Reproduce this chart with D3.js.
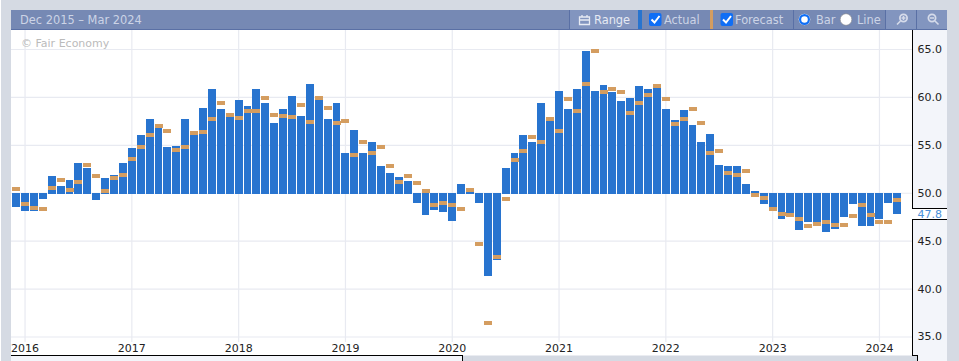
<!DOCTYPE html>
<html>
<head>
<meta charset="utf-8">
<script src="https://cdn.jsdelivr.net/npm/d3@7/dist/d3.min.js"></script>
<style>
html,body{margin:0;padding:0;background:#d5dae3;overflow:hidden}
svg{display:block}
text{font-family:"DejaVu Sans",sans-serif}
</style>
</head>
<body>
<svg id="c" width="959" height="361"></svg>
<script>
const months = [
"2015-12",
"2016-01","2016-02","2016-03","2016-04","2016-05","2016-06","2016-07","2016-08","2016-09","2016-10","2016-11","2016-12",
"2017-01","2017-02","2017-03","2017-04","2017-05","2017-06","2017-07","2017-08","2017-09","2017-10","2017-11","2017-12",
"2018-01","2018-02","2018-03","2018-04","2018-05","2018-06","2018-07","2018-08","2018-09","2018-10","2018-11","2018-12",
"2019-01","2019-02","2019-03","2019-04","2019-05","2019-06","2019-07","2019-08","2019-09","2019-10","2019-11","2019-12",
"2020-01","2020-02","2020-03","2020-04","2020-05","2020-06","2020-07","2020-08","2020-09","2020-10","2020-11","2020-12",
"2021-01","2021-02","2021-03","2021-04","2021-05","2021-06","2021-07","2021-08","2021-09","2021-10","2021-11","2021-12",
"2022-01","2022-02","2022-03","2022-04","2022-05","2022-06","2022-07","2022-08","2022-09","2022-10","2022-11","2022-12",
"2023-01","2023-02","2023-03","2023-04","2023-05","2023-06","2023-07","2023-08","2023-09","2023-10","2023-11","2023-12",
"2024-01","2024-02","2024-03"];
const actual = [
48.55,
48.1,48.1,49.4,51.8,50.8,51.35,53.2,52.6,49.3,51.55,51.9,53.2,
54.7,56.05,57.7,56.8,54.8,54.9,57.8,56.05,58.85,60.85,58.75,58.0,
59.7,59.15,60.85,59.4,57.3,58.75,60.2,58.1,61.35,59.7,57.7,59.4,
54.15,56.65,54.15,55.3,52.8,52.1,51.65,51.25,48.95,47.7,48.25,48.0,
47.1,50.95,50.1,48.95,41.35,43.0,52.6,54.15,56.05,55.4,59.4,57.5,
60.7,58.75,60.85,64.8,60.7,61.25,60.6,59.6,59.9,61.15,60.85,60.95,
58.75,57.6,58.65,57.1,55.4,56.15,53.0,52.8,52.8,50.95,50.2,48.85,
48.55,47.3,47.5,46.15,47.0,47.0,45.95,46.25,47.5,48.85,46.55,46.55,
47.3,48.95,47.8];
const forecast = [
50.4,
48.85,48.45,48.35,50.6,51.35,50.3,51.15,52.9,51.8,50.2,51.55,51.9,
53.55,54.8,56.05,57.0,56.45,54.5,54.8,56.25,56.35,57.7,59.4,58.2,
57.9,58.55,58.55,59.9,58.2,58.1,58.0,59.25,57.4,59.9,58.85,57.3,
57.5,53.95,55.4,54.15,54.8,52.8,51.15,51.8,51.05,50.2,48.75,48.95,
48.75,48.35,50.3,44.7,36.45,43.35,49.4,53.45,54.4,55.85,55.4,57.7,
56.45,59.8,58.55,61.35,64.8,60.6,60.85,60.6,58.35,59.4,60.2,61.15,
59.8,57.2,57.8,58.75,57.3,54.15,54.4,52.1,51.9,52.3,49.8,49.5,
48.33,47.8,47.7,47.3,46.55,46.75,47.0,46.65,46.65,47.6,48.75,47.7,
47.0,47.0,49.25];
const yearTicks = ["2016","2017","2018","2019","2020","2021","2022","2023","2024"];
const yTicks = [35,40,45,50,55,60,65];
const latest = 47.8;
const baseline = 50;
const title = "Dec 2015 – Mar 2024";
const watermark = "© Fair Economy";

const svg = d3.select("#c");
const C = {page:"#d5dae3",head:"#7689b4",headLight:"#8295bf",headLine:"#5a70a5",panel:"#f3f5fa",grid:"#e8eaf1",
  bar:"#2874cf",fc:"#d49d60",ink:"#222",headText:"#ccd4e6"};

const x = d3.scaleBand().domain(months).range([11.7,901.7]).paddingInner(0.11).paddingOuter(0.055);
const y = d3.scaleLinear().domain([35,65]).range([337,49.5]);
const cx = m => x(m)+x.bandwidth()/2;
const left = m => Math.round(x(m));
const barW = m => Math.max(7, Math.round(x(m)+x.step())-left(m)-1);

// frame
svg.append("rect").attr("x",11).attr("y",10).attr("width",936).attr("height",351).attr("fill","#fff");
svg.append("rect").attr("x",913).attr("y",30).attr("width",34).attr("height",331).attr("fill",C.panel);
svg.append("rect").attr("x",0).attr("y",0).attr("width",1).attr("height",361).attr("fill","#fff");
svg.append("rect").attr("x",11).attr("y",356).attr("width",451).attr("height",5).attr("fill",C.panel);
svg.append("rect").attr("x",462).attr("y",355.5).attr("width",455).attr("height",6).attr("fill",C.page);

// grid
const grid = svg.append("g").attr("stroke",C.grid).attr("stroke-width",1.2).attr("fill","none");
grid.selectAll("line.h").data(yTicks).join("line").attr("class","h")
  .attr("x1",11).attr("x2",912).attr("y1",d=>y(d)).attr("y2",d=>y(d));
grid.selectAll("line.v").data(yearTicks).join("line").attr("class","v")
  .attr("x1",d=>cx(d+"-01")).attr("x2",d=>cx(d+"-01")).attr("y1",30).attr("y2",342);

// watermark
svg.append("text").attr("x",21).attr("y",47).attr("font-size",11).attr("fill","#bbbbbb").text(watermark);

// actual bars
const rows = months.map((m,i)=>({m,a:actual[i],f:forecast[i]}));
svg.append("g").attr("shape-rendering","crispEdges").selectAll("rect").data(rows).join("rect")
  .attr("x",d=>left(d.m)).attr("width",d=>barW(d.m))
  .attr("y",d=>d.a>=baseline?y(d.a):y(baseline))
  .attr("height",d=>d.a>=baseline?y(baseline)-y(d.a)+1:y(d.a)-y(baseline))
  .attr("fill",C.bar);
// forecast markers
svg.append("g").attr("shape-rendering","crispEdges").selectAll("rect").data(rows).join("rect")
  .attr("x",d=>left(d.m)).attr("width",8)
  .attr("y",d=>Math.round(y(d.f)-2)).attr("height",4).attr("fill",C.fc);

// axes
const xAxis = d3.axisBottom(x).tickValues(yearTicks.map(d=>d+"-01")).tickFormat(d=>d.slice(0,4)).tickSize(0).tickPadding(0);
const gx = svg.append("g").attr("transform","translate(0,341)").call(xAxis);
gx.select(".domain").remove();
gx.selectAll("text").attr("font-size",11).attr("fill",C.ink).attr("dy",null).attr("y",11).attr("font-family","DejaVu Sans");

const yAxis = d3.axisRight(y).tickValues(yTicks).tickFormat(d3.format(".1f")).tickSize(0).tickPadding(0);
const gy = svg.append("g").attr("transform","translate(917.5,-0.6)").call(yAxis);
gy.select(".domain").remove();
gy.selectAll("text").attr("font-size",11).attr("fill",C.ink).attr("font-family","DejaVu Sans");

// frame lines
const ink = svg.append("g").attr("stroke","#000").attr("fill","none").attr("shape-rendering","crispEdges");
ink.append("path").attr("d","M912.5,30V208.5H947M947,219.5H912.5V355.5H917.5V361");
ink.append("path").attr("d","M11,355.5H462.5V361");
svg.append("rect").attr("x",913).attr("y",209).attr("width",34).attr("height",10).attr("fill","#fff");
svg.append("text").attr("x",917.5).attr("y",218).attr("font-size",11).attr("fill","#4a90d9").text(d3.format(".1f")(latest));

// header
const h = svg.append("g");
h.append("rect").attr("x",11).attr("y",10).attr("width",936).attr("height",20).attr("fill",C.head);
h.append("rect").attr("x",570).attr("y",10).attr("width",68).attr("height",19).attr("fill",C.headLight);
h.append("rect").attr("x",885).attr("y",10).attr("width",62).attr("height",19).attr("fill",C.headLight);
h.append("rect").attr("x",11).attr("y",29).attr("width",936).attr("height",1).attr("fill",C.headLine);
[569,793,885,916].forEach(v=>h.append("rect").attr("x",v).attr("y",10).attr("width",1).attr("height",19).attr("fill",C.headLine));
h.append("rect").attr("x",638).attr("y",10).attr("width",4).attr("height",19).attr("fill",C.bar);
h.append("rect").attr("x",710).attr("y",10).attr("width",3).attr("height",19).attr("fill",C.fc);
const label=(t,xp,fill)=>h.append("text").attr("x",xp).attr("y",24).attr("font-size",11.4).attr("fill",fill||C.headText).text(t);
label(title,20);
label("Range",594,"#e6eaf3");
label("Actual",664);
label("Forecast",735);
label("Bar",816);
label("Line",857);
// checkboxes
[649,720.5].forEach(v=>{
  h.append("rect").attr("x",v).attr("y",13).attr("width",12.5).attr("height",13).attr("rx",2).attr("fill","#0f6ef5");
  h.append("path").attr("d",`M${v+2.5},19.5l3,3l5,-6.5`).attr("fill","none").attr("stroke","#fff").attr("stroke-width",2);
});
// radios
h.append("circle").attr("cx",804.5).attr("cy",19.5).attr("r",5.8).attr("fill","#fff");
h.append("circle").attr("cx",804.5).attr("cy",19.5).attr("r",4.4).attr("fill","#fff").attr("stroke","#0f6ef5").attr("stroke-width",2.2);
h.append("circle").attr("cx",846).attr("cy",19.5).attr("r",5.8).attr("fill","#fff").attr("stroke","#8a8a8a").attr("stroke-width",.6);
// calendar icon
h.append("path").attr("d","M579.5,17h10v7.5h-10zM579.5,20h10M582,15v2M587,15v2").attr("fill","none").attr("stroke","#e6eaf3").attr("stroke-width",1.3);
// zoom icons
h.append("circle").attr("cx",903.5).attr("cy",18).attr("r",3.6).attr("fill","none").attr("stroke","#d5dbea").attr("stroke-width",1.8);
h.append("path").attr("d","M900.5,21l-3.5,3.5M901.5,18h4M903.5,16v4").attr("stroke","#d5dbea").attr("stroke-width",1.6);
h.append("circle").attr("cx",932).attr("cy",18).attr("r",3.6).attr("fill","none").attr("stroke","#d5dbea").attr("stroke-width",1.8);
h.append("path").attr("d","M935,21l3.5,3.5M930,18h4").attr("stroke","#d5dbea").attr("stroke-width",1.6);
</script>
</body>
</html>
